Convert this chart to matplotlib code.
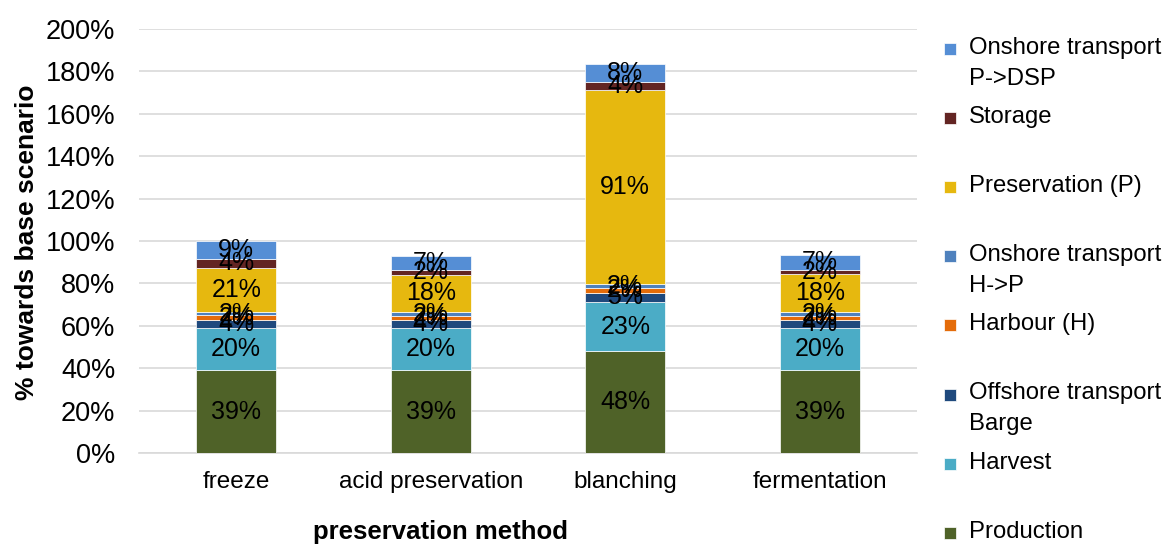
import numpy as np
import matplotlib.pyplot as plt
from matplotlib.patches import Rectangle

plt.rcParams['font.family'] = ['Liberation Sans', 'DejaVu Sans']

# categories on the x axis
methods = ["freeze", "acid preservation", "blanching", "fermentation"]

# stacked shares (% towards base scenario), bottom to top
production = [39.0, 39.0, 48.0, 39.0]
harvest = [20.0, 20.0, 23.0, 20.0]
offshore_barge = [3.6, 3.6, 4.7, 3.6]
harbour = [2.3, 2.2, 2.3, 2.2]
onshore_hp = [1.6, 1.6, 1.6, 1.6]
preservation = [21.0, 17.7, 91.4, 17.8]
storage = [3.9, 2.2, 4.0, 2.2]
onshore_pdsp = [8.8, 6.6, 8.3, 7.0]

series = [
    ("Production", production, "#4F6228"),
    ("Harvest", harvest, "#4BACC6"),
    ("Offshore transport\nBarge", offshore_barge, "#1F497D"),
    ("Harbour (H)", harbour, "#E46C0A"),
    ("Onshore transport\nH->P", onshore_hp, "#4F81BD"),
    ("Preservation (P)", preservation, "#E6B80F"),
    ("Storage", storage, "#632523"),
    ("Onshore transport\nP->DSP", onshore_pdsp, "#558ED5"),
]

W, H = 1166, 545
fig = plt.figure(figsize=(W / 100, H / 100), dpi=100)
ax = fig.add_axes([139 / W, 1 - 453 / H, (917 - 139) / W, (453 - 29) / H])

x = np.arange(len(methods))
bottom = np.zeros(len(methods))
for name, vals, color in series:
    vals = np.array(vals)
    ax.bar(x, vals, width=0.41, bottom=bottom, color=color,
           edgecolor="white", linewidth=0.5, zorder=3)
    for xi, b, v in zip(x, bottom, vals):
        ax.text(xi, b + v / 2, f"{v:.0f}%", ha="center", va="center",
                fontsize=18, color="black", zorder=4)
    bottom += vals

ax.set_xlim(-0.5, len(methods) - 0.5)
ax.set_ylim(0, 200)
ax.set_yticks(np.arange(0, 201, 20))
ax.set_yticklabels([f"{t}%" for t in range(0, 201, 20)])
ax.set_xticks(x)
ax.set_xticklabels(methods)
ax.tick_params(axis="both", length=0)
ax.tick_params(axis="y", pad=17, labelsize=19.5)
ax.tick_params(axis="x", pad=13, labelsize=17.5)
ax.grid(axis="y", color="#D9D9D9", linewidth=1.2, zorder=0)
for s in ["left", "right", "top"]:
    ax.spines[s].set_visible(False)
ax.spines["bottom"].set_color("#D9D9D9")
ax.spines["bottom"].set_linewidth(1.2)

fig.text(27 / W, 1 - 242 / H, "% towards base scenario", rotation=90,
         ha="center", va="center", fontsize=19, fontweight="bold")
fig.text(440 / W, 1 - 532 / H, "preservation method", ha="center",
         va="center", fontsize=18.5, fontweight="bold")

# legend, top entry first
for i, (name, vals, color) in enumerate(reversed(series)):
    yc = 49 + i * 69.1
    fig.patches.append(Rectangle((944 / W, 1 - (yc + 6) / H), 12 / W, 12 / H,
                                 transform=fig.transFigure, facecolor=color,
                                 edgecolor="white", linewidth=0.5))
    fig.text(969 / W, 1 - (yc - 12) / H, name, ha="left", va="top",
             fontsize=17.2, linespacing=1.52)

fig.savefig("out.png", dpi=100)
